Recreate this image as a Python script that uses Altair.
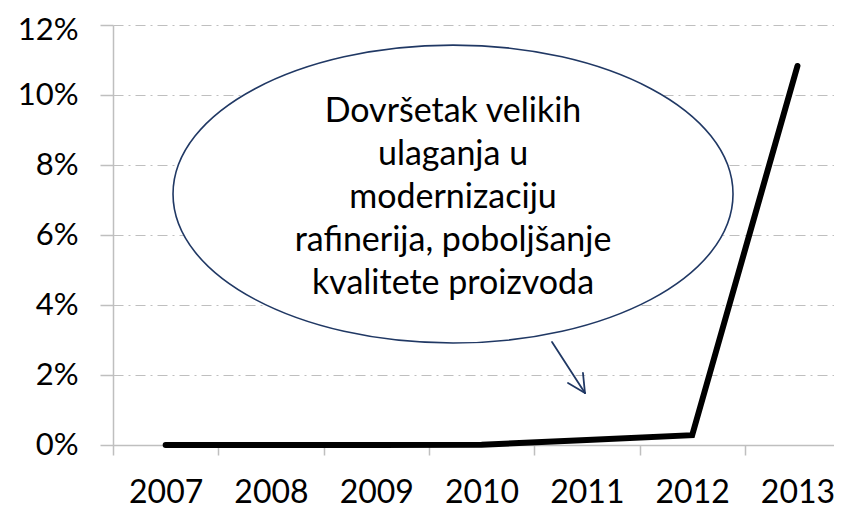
import altair as alt
import pandas as pd

years = [2007, 2008, 2009, 2010, 2011, 2012, 2013]
values = [0.0, 0.0, 0.0, 0.0001, 0.0014, 0.0028, 0.1083]

callout_lines = ["Dovršetak velikih", "ulaganja u", "modernizaciju",
                 "rafinerija, poboljšanje", "kvalitete proizvoda"]

df = pd.DataFrame({"year": years, "value": values})

FONT = "Lato"
NAVY = "#203864"
GRAY = "#bfbfbf"

x_scale = alt.Scale(domain=[2006.5, 2013.347], nice=False, zero=False)
y_scale = alt.Scale(domain=[0, 0.12], nice=False)

x_axis = alt.Axis(
    values=[2006.5, 2007.5, 2008.5, 2009.5, 2010.5, 2011.5, 2012.5],
    labelExpr="toString(datum.value + 0.5)",
    labelOffset=52.65, labelFlush=False, labelOverlap=False,
    tickSize=10, tickColor=GRAY, tickWidth=1.5,
    domainColor=GRAY, domainWidth=1.5,
    labelFont=FONT, labelFontSize=32, labelColor="#000000",
    labelPadding=22, title=None, grid=False,
)
y_axis = alt.Axis(
    values=[0, 0.02, 0.04, 0.06, 0.08, 0.10, 0.12], format=".0%",
    tickSize=13, tickColor=GRAY, tickWidth=1.5,
    domainColor=GRAY, domainWidth=1.5,
    grid=True, gridColor=GRAY, gridWidth=1.2, gridDash=[10, 5, 2, 5],
    labelFont=FONT, labelFontSize=31, labelColor="#000000",
    labelOffset={"condition": {"test": "datum.value >= 0.119", "value": 5}, "value": 0},
    labelPadding=22, title=None,
)

line = alt.Chart(df).mark_line(
    color="#000000", strokeWidth=6, strokeCap="round", strokeJoin="miter"
).encode(
    x=alt.X("year:Q", scale=x_scale, axis=x_axis),
    y=alt.Y("value:Q", scale=y_scale, axis=y_axis),
)

ellipse_path = ("M -1 0 C -1 -0.294 -0.5523 -0.532 0 -0.532 "
                "C 0.5523 -0.532 1 -0.294 1 0 "
                "C 1 0.294 0.5523 0.532 0 0.532 "
                "C -0.5523 0.532 -1 0.294 -1 0 Z")

ellipse = alt.Chart().mark_point(
    shape=ellipse_path, size=313600, filled=True, fill="#ffffff",
    stroke=NAVY, strokeWidth=1.6, opacity=1,
).encode(
    x=alt.datum(2009.729, scale=x_scale),
    y=alt.datum(0.0717, scale=y_scale),
)

text = alt.Chart().mark_text(
    font=FONT, fontSize=34, color="#000000", align="center",
    baseline="middle", lineHeight=43,
).encode(
    x=alt.datum(2009.729),
    y=alt.datum(0.0951),
    text=alt.value(callout_lines),
)

def seg(x1, y1, x2, y2):
    return alt.Chart().mark_rule(color=NAVY, strokeWidth=1.8, strokeCap="round").encode(
        x=alt.datum(x1), y=alt.datum(y1), x2=alt.datum(x2), y2=alt.datum(y2)
    )

arrow = (seg(2010.669, 0.02943, 2010.982, 0.01486)
         + seg(2010.821, 0.01771, 2010.982, 0.01486)
         + seg(2010.963, 0.02057, 2010.982, 0.01486))

chart = alt.layer(line, ellipse, text, arrow).properties(
    width=721, height=420,
    autosize=alt.AutoSizeParams(type="none"),
    padding={"left": 105, "top": 17, "right": 0, "bottom": 65},
).configure_view(stroke=None)

chart.save("out.html", embed_options={"renderer": "svg", "actions": False})
